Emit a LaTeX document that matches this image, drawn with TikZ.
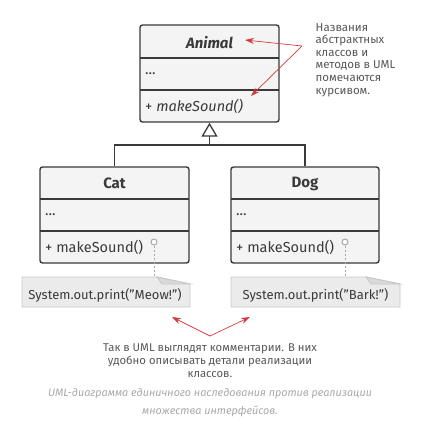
\documentclass[tikz,border=0pt]{standalone}
\usepackage{fontspec}
\setmainfont{Fira Sans}
\usetikzlibrary{arrows.meta}
\definecolor{ink}{HTML}{3A3A3A}
\definecolor{boxfill}{HTML}{F4F4F4}
\definecolor{notefill}{HTML}{EBEBEB}
\definecolor{noteline}{HTML}{C8C8C8}
\definecolor{accent}{HTML}{D33A3F}
\definecolor{capgray}{HTML}{A8A8A8}
\tikzset{
  classbox/.style={draw=ink, fill=boxfill, line width=1.4pt, rounded corners=2.5pt, inner sep=0pt},
  sep/.style={draw=ink, line width=1.4pt},
  member/.style={anchor=west, inner sep=0pt, text=ink, font=\fontsize{14.5}{16}\selectfont},
  ctitle/.style={inner sep=0pt, text=ink, font=\fontsize{15}{17}\selectfont\bfseries},
  inh/.style={draw=ink, line width=1.3pt},
  notebody/.style={draw=noteline, fill=notefill, line width=0.9pt},
  notetext/.style={inner sep=0pt, text=ink, font=\fontsize{13}{15}\selectfont},
  lolly/.style={circle, draw=capgray, line width=1pt, fill=white, minimum size=6pt, inner sep=0pt},
  dots/.style={draw=capgray, line width=1pt, dash pattern=on 2pt off 2pt},
  redarrow/.style={draw=accent, line width=0.7pt, -{Stealth[length=9pt,width=6pt]}},
  annot/.style={inner sep=0pt, text=ink!85, font=\fontsize{11.5}{12.6}\selectfont, align=left},
  captiontext/.style={inner sep=0pt, text=capgray, font=\fontsize{10.8}{18}\selectfont\itshape, align=center}
}
\begin{document}
\begin{tikzpicture}[x=1pt,y=-1pt]
\useasboundingbox (0,0) rectangle (447,422);
% Animal
\node[classbox, minimum width=139pt, minimum height=97pt] (animal) at (209.5,73.5) {};
\draw[sep] (140,58) -- (279,58);
\draw[sep] (140,90) -- (279,90);
\node[ctitle] (animalT) at (209.5,42.5) {\itshape Animal};
\node[member] (animalA) at (145,74) {...};
\node[member] (animalM) at (145,106) {+ \itshape makeSound()};
% Cat
\node[classbox, minimum width=149pt, minimum height=96pt] (cat) at (114.5,215) {};
\draw[sep] (40,199) -- (189,199);
\draw[sep] (40,231) -- (189,231);
\node[ctitle] (catT) at (114.5,183.5) {Cat};
\node[member] (catA) at (45,215) {...};
\node[member] (catM) at (45,247) {+ makeSound()};
% Dog
\node[classbox, minimum width=148pt, minimum height=96pt] (dog) at (305,215) {};
\draw[sep] (231,199) -- (379,199);
\draw[sep] (231,231) -- (379,231);
\node[ctitle] (dogT) at (305,183.5) {Dog};
\node[member] (dogA) at (236,215) {...};
\node[member] (dogM) at (236,247) {+ makeSound()};
% inheritance
\coordinate (join) at (209.5,145);
\draw[inh] (dog.north) |- (join);
\draw[inh, -{Triangle[open, fill=white, length=14pt, width=16pt]}] (cat.north) |- (join) -- (animal.south);
% notes
\draw[notebody] (22,277) -- (157,277) -- (190,284) -- (190,307) -- (22,307) -- cycle;
\draw[notebody, fill=noteline!70] (157,277) -- (162,284) -- (190,284) -- cycle;
\node[notetext] (catNote) at (105,295) {System.out.print("Meow!")};
\draw[notebody] (231,277) -- (366,277) -- (400,284) -- (400,307) -- (231,307) -- cycle;
\draw[notebody, fill=noteline!70] (366,277) -- (371,284) -- (400,284) -- cycle;
\node[notetext] (dogNote) at (315.5,295) {System.out.print("Bark!")};
\coordinate (catNoteTop) at (154,277);
\coordinate (dogNoteTop) at (345,277);
\node[lolly] (catL) at (154,242) {};
\node[lolly] (dogL) at (345,242) {};
\draw[dots] (catL.south) -- (catNoteTop);
\draw[dots] (dogL.south) -- (dogNoteTop);
% annotation top right
\node[annot, anchor=north west] (ann) at (315.5,23) {Названия\\абстрактных\\классов и\\методов в UML\\помечаются\\курсивом.};
\coordinate (annP) at (302,46);
\coordinate (tipA) at (245,40);
\coordinate (tipB) at (251,96);
\draw[redarrow] (annP) -- (tipA);
\draw[redarrow] (annP) -- (tipB);
% bottom arrows
\coordinate (botP) at (210,336);
\coordinate (tipC) at (172,317);
\coordinate (tipD) at (250,317);
\draw[redarrow] (botP) -- (tipC);
\draw[redarrow] (botP) -- (tipD);
\node[annot, font=\fontsize{11.3}{12.6}\selectfont, align=center, anchor=north] (bottomText) at (210,344) {Так в UML выглядят комментарии. В них\\удобно описывать детали реализации\\классов.};
\node[captiontext, anchor=north] (caption) at (210,388) {UML-диаграмма единичного наследования против реализации\\множества интерфейсов.};
\end{tikzpicture}
\end{document}
